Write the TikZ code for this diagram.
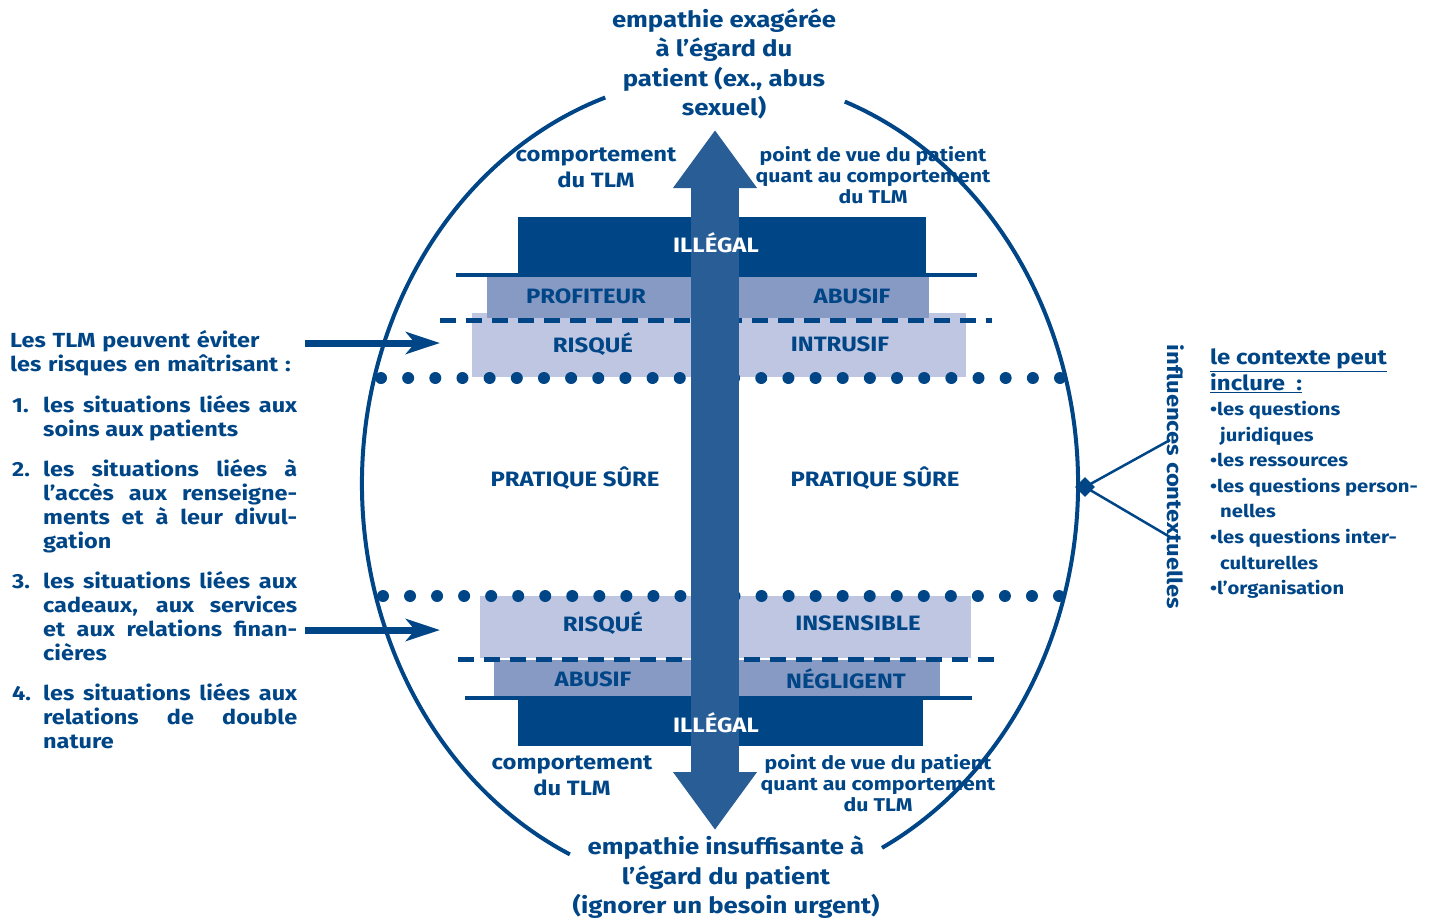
\documentclass[tikz,border=0pt]{standalone}
\usepackage{fontspec}
\setmainfont{Fira Sans}[FakeStretch=1.15]
\usetikzlibrary{arrows.meta,shapes.geometric}
\definecolor{tlmdark}{RGB}{0,70,135}
\definecolor{tlmshaft}{RGB}{40,93,150}
\definecolor{tlmmid}{RGB}{134,154,196}
\definecolor{tlmlight}{RGB}{190,198,225}
\begin{document}
\begin{tikzpicture}
        [x=1pt, y=-1pt,
        rim/.style={draw=tlmdark, line width=4pt},
        lbl/.style={text=tlmdark, inner sep=0pt, font=\fontsize{20.8}{24}\selectfont\bfseries},
        lblW/.style={lbl, text=white},
        note/.style={text=tlmdark, inner sep=0pt, align=center, font=\fontsize{20.7}{26}\selectfont\bfseries},
        noteS/.style={note, font=\fontsize{18.5}{21}\selectfont\bfseries},
        title/.style={note, font=\fontsize{22.4}{29.5}\selectfont\bfseries},
        item/.style={text=tlmdark, inner sep=0pt, anchor=north west, text width=285pt, align=justify, font=\fontsize{20.4}{24}\selectfont\bfseries},
        dashline/.style={draw=tlmdark, line width=5pt, dash pattern=on 16pt off 10pt},
        barline/.style={draw=tlmdark, line width=4pt},
        shaft/.style={draw=tlmshaft, line width=48pt, {Triangle[length=58pt,width=80pt]}-{Triangle[length=58pt,width=80pt]}},
        pointer/.style={draw=tlmdark, line width=7pt, -{Stealth[length=34pt,width=22pt,inset=9pt]}},
        spoke/.style={draw=tlmdark, line width=2.5pt}]
        \useasboundingbox (0,0) rectangle (1432,921);

        % outer ellipse, open at top and bottom
        \draw[rim] (720,484) ++(-69.6:358 and 408) arc[start angle=-69.6, end angle=63.1, x radius=358, y radius=408];
        \draw[rim] (720,484) ++(114.8:358 and 408) arc[start angle=114.8, end angle=251.3, x radius=358, y radius=408];

        % upper bands
        \fill[tlmlight] (472,313) rectangle (966,377);
        \fill[tlmmid] (487,277) rectangle (929,318);
        \fill[tlmdark] (518,217) rectangle (926,275);
        \draw[barline] (456,275) -- (977,275);
        \draw[dashline] (440,320) -- (992,320);

        % lower bands
        \fill[tlmlight] (480,596) rectangle (971,658);
        \fill[tlmmid] (494,660) rectangle (940,697);
        \fill[tlmdark] (518,698) rectangle (923,746);
        \draw[barline] (465,698) -- (972,698);
        \draw[dashline] (458,659) -- (1002,659);

        % dotted borders of safe practice
        \foreach \i in {0,...,25} {
            \fill[tlmdark] (381+27.16*\i,378) circle (6);
            \fill[tlmdark] (383+27.04*\i,596) circle (6);
        }

        % central arrow
        \coordinate (top) at (715,130);
        \coordinate (bot) at (715,830);
        \draw[shaft] (bot) -- (top);

        % band labels
        \node[lblW] (illU) at (716,243) {ILLÉGAL};
        \node[lbl] (profU) at (586,296) {PROFITEUR};
        \node[lbl] (abusU) at (852,296) {ABUSIF};
        \node[lbl] (riskU) at (593,344) {RISQUÉ};
        \node[lbl] (intrU) at (840,344) {INTRUSIF};
        \node[lbl] (safeL) at (575,478) {PRATIQUE SÛRE};
        \node[lbl] (safeR) at (875,478) {PRATIQUE SÛRE};
        \node[lbl] (riskL) at (603,623) {RISQUÉ};
        \node[lbl] (insL) at (858,623) {INSENSIBLE};
        \node[lbl] (abusL) at (593,679) {ABUSIF};
        \node[lbl] (neglL) at (846,679) {NÉGLIGENT};
        \node[lblW] (illL) at (716,723) {ILLÉGAL};

        % axis ends
        \node[title] (high) at (724,64) {empathie exagérée\\à l’égard du\\patient (ex., abus\\sexuel)};
        \node[title] (low) at (726,877.5) {empathie insuffisante à\\l’égard du patient\\(ignorer un besoin urgent)};
        \node[note] (behU) at (596,168) {comportement\\du TLM};
        \node[noteS] (viewU) at (873,175) {point de vue du patient\\quant au comportement\\du TLM};
        \node[note] (behL) at (572,776) {comportement\\du TLM};
        \node[noteS] (viewL) at (878,783) {point de vue du patient\\quant au comportement\\du TLM};

        % left column
        \node[item, align=left] (intro) at (10,330) {Les TLM peuvent éviter\\les risques en maîtrisant :};
        \node[item] (sit1) at (12,395) {\hangindent=31pt\hangafter=1\makebox[31pt][l]{1.}les situations liées aux\linebreak soins aux patients\par};
        \node[item] (sit2) at (12,459) {\hangindent=31pt\hangafter=1\makebox[31pt][l]{2.}les situations liées à\linebreak l’accès aux renseigne-\linebreak ments et à leur divul-\linebreak gation\par};
        \node[item] (sit3) at (12,571) {\hangindent=31pt\hangafter=1\makebox[31pt][l]{3.}les situations liées aux\linebreak cadeaux, aux services\linebreak et aux relations finan-\linebreak cières\par};
        \node[item] (sit4) at (12,683) {\hangindent=31pt\hangafter=1\makebox[31pt][l]{4.}les situations liées aux\linebreak relations de double\linebreak nature\par};
        \coordinate (in1) at (440,343);
        \coordinate (in2) at (440,630);
        \coordinate (from1) at (305,343);
        \coordinate (from2) at (305,630);
        \draw[pointer] (from1) -- (in1);
        \draw[pointer] (from2) -- (in2);

        % right side: context
        \node[diamond, fill=tlmdark, minimum size=20pt, inner sep=0pt] (ctx) at (1085,487) {};
        \coordinate (ctxA) at (1170,440);
        \coordinate (ctxB) at (1170,537);
        \draw[spoke] (ctx.center) -- (ctxA);
        \draw[spoke] (ctx.center) -- (ctxB);
        \node[note, rotate=-90, font=\fontsize{20.7}{24}\selectfont\bfseries] (infl) at (1176,477) {influences contextuelles};
        \node[item, align=left, text width=, font=\fontsize{20.8}{25.6}\selectfont\bfseries] (ctxHead) at (1210,349)
            {\underline{le contexte peut}\\\underline{inclure\ \ :}};
        \node[item, align=left, text width=, font=\fontsize{17.6}{25.6}\selectfont\bfseries] (ctxList) at (1210,401)
            {•les questions\\\hphantom{•}\,juridiques\\•les ressources\\•les questions person-\\\hphantom{•}\,nelles\\•les questions inter-\\\hphantom{•}\,culturelles\\•l’organisation};
\end{tikzpicture}
\end{document}
